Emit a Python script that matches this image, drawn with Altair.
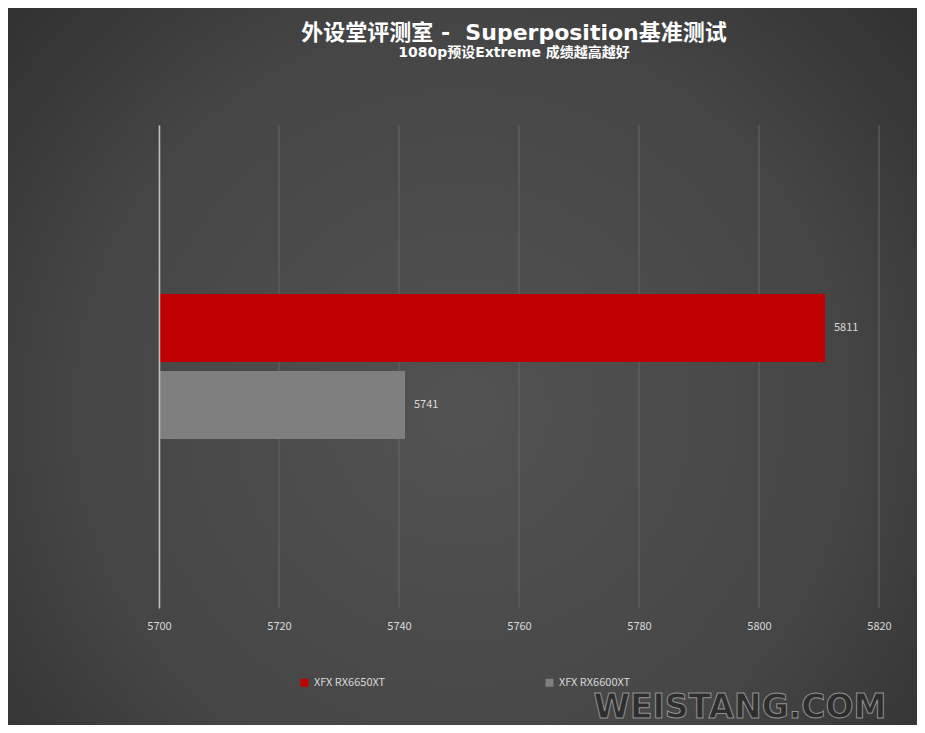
import altair as alt
import pandas as pd

group_name = ["1080p Extreme", "1080p Extreme"]
cards = ["XFX RX6650XT", "XFX RX6600XT"]
scores = [5811, 5741]
bar_colors = ["#c00000", "#7f7f7f"]
tick_values = [5700, 5720, 5740, 5760, 5780, 5800, 5820]
axis_min = 5700
axis_max = 5820

df = pd.DataFrame({"group": group_name, "card": cards, "score": scores,
                   "base": [axis_min] * len(cards)})
ticks_df = pd.DataFrame({"tick": tick_values})
one = pd.DataFrame({"k": [0]})

FONT = "Noto Sans CJK SC"
TITLE_FONT = "DejaVu Sans, Noto Sans CJK SC"

bg = alt.Chart(one).mark_rect(
    fill={
        "gradient": "radial",
        "x1": 0.5, "y1": 0.55, "r1": 0.0,
        "x2": 0.5, "y2": 0.55, "r2": 0.75,
        "stops": [
            {"offset": 0.0, "color": "#525252"},
            {"offset": 0.55, "color": "#464646"},
            {"offset": 1.0, "color": "#2a2a2a"},
        ],
    }
).encode(x=alt.value(-151), x2=alt.value(758), y=alt.value(-117), y2=alt.value(600))

xscale = alt.Scale(domain=[axis_min, axis_max], zero=False, nice=False)
yscale = alt.Scale(paddingInner=0, paddingOuter=0.98)
yoffscale = alt.Scale(domain=cards, paddingInner=0.118, paddingOuter=0.118)

grid = alt.Chart(ticks_df).mark_rule(color="#666666", strokeWidth=1).encode(
    x=alt.X("tick:Q", scale=xscale,
            axis=alt.Axis(values=tick_values, title=None, grid=False, ticks=False, domain=False,
                          labelColor="#d9d9d9", labelFontSize=11, labelPadding=12, labelFont=FONT,
                          labelFlush=False, format="d", zindex=1))
)

bars = alt.Chart(df).mark_bar().encode(
    x=alt.X("base:Q", scale=xscale),
    x2="score:Q",
    y=alt.Y("group:N", scale=yscale,
            axis=alt.Axis(title=None, labels=False, ticks=False, domain=True,
                          domainColor="#bfbfbf", domainWidth=1.5, grid=False, zindex=1)),
    yOffset=alt.YOffset("card:N", sort=cards, scale=yoffscale),
    color=alt.Color("card:N", sort=cards,
                    scale=alt.Scale(domain=cards, range=bar_colors),
                    legend=alt.Legend(title=None, orient="none", direction="horizontal",
                                      legendX=140, legendY=552, symbolType="square",
                                      symbolSize=64, symbolStrokeWidth=0,
                                      labelColor="#d9d9d9", labelFontSize=11, labelFont=FONT,
                                      columnPadding=158, labelOffset=4, zindex=1)),
)

labels = alt.Chart(df).mark_text(align="left", baseline="middle", dx=9, color="#d9d9d9",
                                 fontSize=11, font=FONT).encode(
    x=alt.X("score:Q", scale=xscale),
    y=alt.Y("group:N", scale=yscale),
    yOffset=alt.YOffset("card:N", sort=cards, scale=yoffscale),
    text=alt.Text("score:Q", format="d"),
)

watermark = alt.Chart(one).mark_text(
    text="WEISTANG.COM", align="center", baseline="middle", font="DejaVu Sans",
    fontWeight="bold", fontSize=33, fill="#2c2c2c", stroke="#9a9a9a", strokeWidth=1,
    opacity=0.9,
).encode(x=alt.value(581), y=alt.value(583))

chart = alt.layer(bg, grid, bars, labels, watermark).properties(
    width=720,
    height=483,
    autosize=alt.AutoSizeParams(type="none"),
    padding={"left": 151, "top": 117, "right": 38, "bottom": 117},
    background="#3a3a3a",
    title=alt.Title(
        text="外设堂评测室 -\u00a0 Superposition基准测试",
        subtitle="1080p预设Extreme 成绩越高越好",
        anchor="middle", color="#ffffff", fontSize=22, fontWeight="bold", font=TITLE_FONT,
        subtitleColor="#ffffff", subtitleFontSize=14, subtitleFontWeight="bold",
        subtitleFont=TITLE_FONT, subtitlePadding=1, offset=-53, zindex=1, dx=-5,
    ),
).configure_view(stroke=None)

chart.save("out.html", embed_options={"renderer": "svg", "actions": False})
